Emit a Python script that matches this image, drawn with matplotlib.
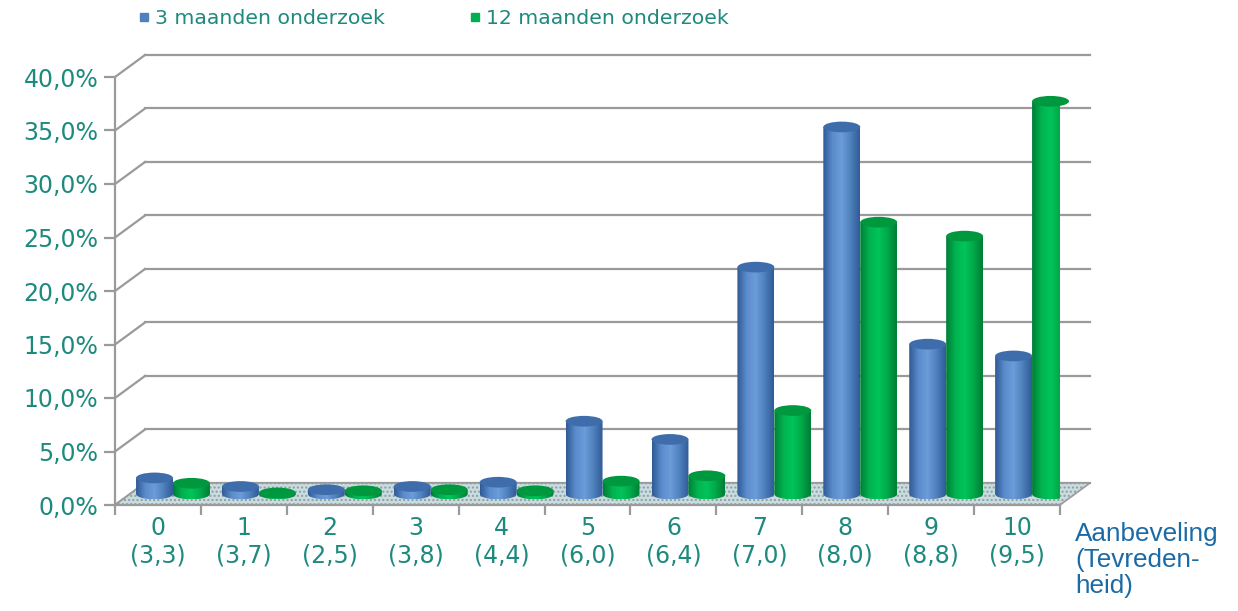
import numpy as np
import matplotlib
matplotlib.use("Agg")
import matplotlib.pyplot as plt
from matplotlib.patches import Polygon, Ellipse
from matplotlib.lines import Line2D
from matplotlib.colors import LinearSegmentedColormap

# data (percentages)
categories = ["0", "1", "2", "3", "4", "5", "6", "7", "8", "9", "10"]
satisfaction = ["(3,3)", "(3,7)", "(2,5)", "(3,8)", "(4,4)", "(6,0)",
                "(6,4)", "(7,0)", "(8,0)", "(8,8)", "(9,5)"]
months_3 = [1.5, 0.7, 0.4, 0.7, 1.1, 6.8, 5.1, 21.2, 34.3, 14.0, 12.9]
months_12 = [1.0, 0.1, 0.3, 0.4, 0.3, 1.2, 1.7, 7.8, 25.4, 24.1, 36.7]
series_names = ["3 maanden onderzoek", "12 maanden onderzoek"]
yticks = [0, 5, 10, 15, 20, 25, 30, 35, 40]

teal = "#1e8a7e"
grid_col = "#9a9a9a"
blue = "#4f81bd"
green = "#00b050"
blue_cmap = LinearSegmentedColormap.from_list("b", ["#2f5a94", "#5a8bcb", "#6c9cda", "#4f81bd", "#305c98"])
green_cmap = LinearSegmentedColormap.from_list("g", ["#007e36", "#00b24f", "#00c45a", "#00a848", "#007e36"])

fig = plt.figure(figsize=(12.38, 6.11), dpi=100)
ax = fig.add_axes([115 / 1238, (611 - 505) / 611, 945 / 1238, 428 / 611])
xmin, xmax = -0.5, len(categories) - 0.5
ymin, ymax = 0, 40

# depth of the 3d box in data units
dx = 0.35
dy = 2.06

# back wall gridlines and side wall diagonals
for v in yticks:
    ax.plot([xmin + dx, xmax + dx], [v + dy, v + dy], color=grid_col, lw=1.6, clip_on=False, zorder=1)
    ax.plot([xmin, xmin + dx], [v, v + dy], color=grid_col, lw=1.6, clip_on=False, zorder=1)

# floor
floor = Polygon([[xmin, 0], [xmax, 0], [xmax + dx, dy], [xmin + dx, dy]], closed=True,
                facecolor="#c6dde1", edgecolor=grid_col, lw=1.2, hatch="....", clip_on=False, zorder=2)
ax.add_patch(floor)

# cylinders
w = 0.43
eh = 1.0
base = dy / 2
for i in range(len(categories)):
    for k, (vals, cmap, top_col) in enumerate([(months_3, blue_cmap, "#3f6dab"),
                                               (months_12, green_cmap, "#00983f")]):
        cx = i + dx / 2 + (k - 0.5) * w
        top = base + vals[i]
        t = np.linspace(np.pi, 2 * np.pi, 40)
        pts = np.column_stack([cx + w / 2 * np.cos(t), base + eh / 2 * np.sin(t)])
        pts = np.vstack([pts, [[cx + w / 2, top], [cx - w / 2, top]]])
        body = Polygon(pts, closed=True, facecolor="none", edgecolor="none", clip_on=False, zorder=3 + i)
        ax.add_patch(body)
        grad = np.linspace(0, 1, 64).reshape(1, -1)
        im = ax.imshow(grad, cmap=cmap, aspect="auto", extent=[cx - w / 2, cx + w / 2, base - eh / 2, top],
                       origin="lower", zorder=3 + i, clip_on=True)
        im.set_clip_path(body)
        ax.add_patch(Ellipse((cx, top), w, eh, facecolor=top_col, edgecolor="none",
                             clip_on=False, zorder=3.5 + i))

ax.set_xlim(xmin, xmax)
ax.set_ylim(ymin, ymax)

# axes styling
for s in ["top", "right"]:
    ax.spines[s].set_visible(False)
ax.spines["left"].set_color(grid_col)
ax.spines["left"].set_linewidth(1.6)
ax.spines["bottom"].set_color(grid_col)
ax.spines["bottom"].set_linewidth(1.6)
ax.spines["bottom"].set_zorder(30)

ax.set_yticks(yticks)
ax.set_yticklabels([("%.1f%%" % v).replace(".", ",") for v in yticks])
ax.tick_params(axis="y", colors=grid_col, labelcolor=teal, labelsize=17, length=8, width=1.6, pad=4)

ax.set_xticks(range(len(categories)))
ax.set_xticklabels([c + "\n" + s for c, s in zip(categories, satisfaction)])
ax.set_xticks(np.arange(xmin, xmax + 0.01, 1), minor=True)
ax.tick_params(axis="x", which="major", length=0, labelcolor=teal, labelsize=17, pad=8)
ax.tick_params(axis="x", which="minor", length=7, width=1.6, color=grid_col)
ax.patch.set_visible(False)

fig.text(1075 / 1238, 1 - 522 / 611, "Aanbeveling\n(Tevreden-\nheid)", color="#1a6aa6",
         fontsize=18.8, family="Liberation Sans", va="top", ha="left", linespacing=1.1)

handles = [Line2D([], [], marker="s", ls="none", color=blue, markersize=6),
           Line2D([], [], marker="s", ls="none", color=green, markersize=6)]
fig.legend(handles, series_names, loc="center left", bbox_to_anchor=(139 / 1238, 1 - 19 / 611),
           ncol=2, frameon=False, fontsize=14.7, labelcolor=teal, handlelength=0.5,
           handletextpad=0.3, columnspacing=4.15, borderaxespad=0, borderpad=0)

fig.savefig("out.png", dpi=100)
